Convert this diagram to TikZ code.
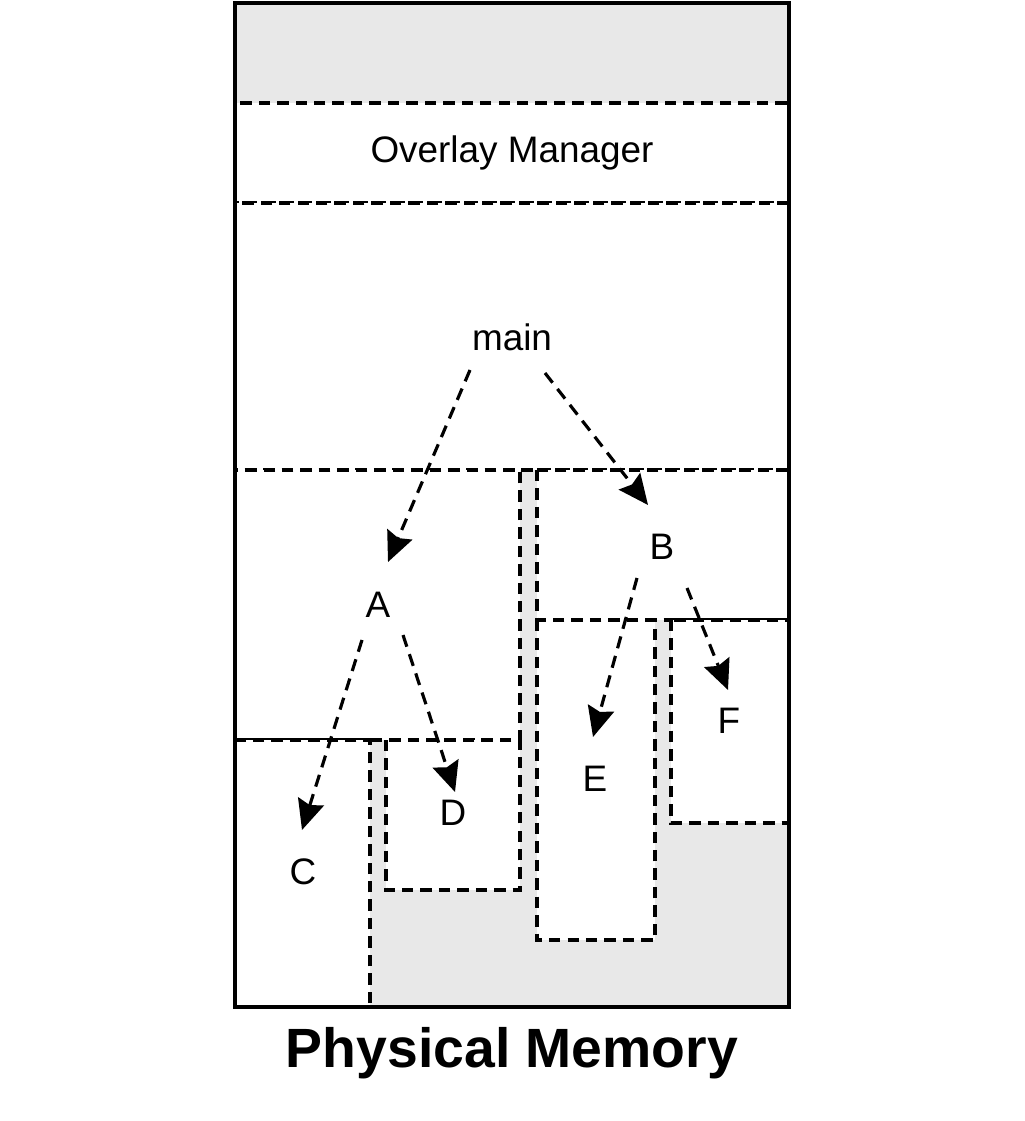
\documentclass[tikz,border=0pt]{standalone}
\usepackage{fontspec}
\setmainfont{Liberation Sans}
\usetikzlibrary{arrows.meta}
\definecolor{memgray}{HTML}{E8E8E8}

\begin{document}
\begin{tikzpicture}[x=0.02cm, y=-0.02cm,
    seg/.style={draw, fill=white, line width=1.9pt, dash pattern=on 6.5pt off 4pt},
    lbl/.style={font=\fontsize{21}{25}\selectfont},
    call/.style={-{Stealth[length=6mm, width=5.4mm, inset=0.8mm]}, line width=1.8pt,
                 dash pattern=on 7pt off 4.5pt}]

    \useasboundingbox (0,0) rectangle (1024,1121);

    % free memory
    \fill[memgray] (235,3) rectangle (789,1007);

    % overlay segments
    \draw[seg] (235,103) rectangle (789,203);
    \draw[seg] (235,203) rectangle (789,470);
    \draw[seg] (235,470) rectangle (520,740);
    \draw[seg] (537,470) rectangle (789,620);
    \draw[seg] (235,740) rectangle (370,1007);
    \draw[seg] (386,740) rectangle (520,890);
    \draw[seg] (537,620) rectangle (655,940);
    \draw[seg] (671,620) rectangle (789,823);

    \draw[line width=2.5pt] (235,3) rectangle (789,1007);

    \node[lbl] (om) at (512,153) {Overlay Manager};
    \node[lbl] (main) at (512,337) {main};
    \node[lbl] (A) at (378,605) {A};
    \node[lbl] (B) at (662,547) {B};
    \node[lbl] (C) at (303,872) {C};
    \node[lbl] (D) at (453,813) {D};
    \node[lbl] (E) at (595,779) {E};
    \node[lbl] (F) at (729,721) {F};

    \node[font=\bfseries\fontsize{31.5}{36}\selectfont] (pm) at (512,1053) {Physical Memory};

    \draw[call] ([shift={(-42,33)}]main.center) -- ([shift={(10,-43)}]A.center);
    \draw[call] ([shift={(33,36)}]main.center) -- ([shift={(-14,-42)}]B.center);
    \draw[call] ([shift={(-16,35)}]A.center) -- ([shift={(-1,-42)}]C.center);
    \draw[call] ([shift={(25,30)}]A.center) -- ([shift={(2,-21)}]D.center);
    \draw[call] ([shift={(-25,31)}]B.center) -- ([shift={(-2,-42)}]E.center);
    \draw[call] ([shift={(25,41)}]B.center) -- ([shift={(-1,-31)}]F.center);

\end{tikzpicture}
\end{document}
